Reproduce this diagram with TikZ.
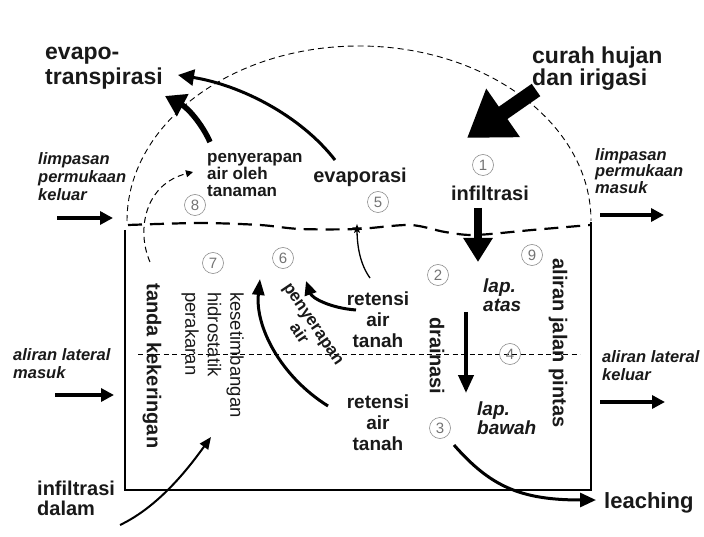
\documentclass[tikz,border=0pt]{standalone}
\usepackage{fontspec}
\setmainfont{Liberation Sans}
\usetikzlibrary{arrows.meta,shapes.geometric}

\tikzset{
  big/.style={font=\bfseries\fontsize{23}{25}\selectfont, align=left, inner sep=0pt, text=black!90},
  mid/.style={font=\bfseries\fontsize{20}{21}\selectfont, align=center, inner sep=0pt, text=black!90},
  small/.style={font=\bfseries\fontsize{17}{17.5}\selectfont, align=left, inner sep=0pt, text=black!90},
  thin/.style={font=\fontsize{18.5}{22.5}\selectfont, align=left, inner sep=0pt, text=black!90},
  flow/.style={font=\bfseries\itshape\fontsize{16.5}{18}\selectfont, align=left, inner sep=0pt, text=black!90},
  num/.style={circle, draw=black!45, line width=0.6pt, minimum size=21pt, inner sep=0pt, text=black!55, font=\fontsize{15}{15}\selectfont},
  sidearrow/.style={line width=3.5pt, -{Triangle[length=13pt,width=13pt]}},
}

\begin{document}
\begin{tikzpicture}[x=1pt,y=1pt]
		%%%%% START %%%%%
		\useasboundingbox (0,0) rectangle (704,536);
		
		% soil box and canopy
		\draw[line width=1.3pt] (125,306) -- (125,46) -- (591,46) -- (591,314);
		\draw[line width=0.9pt, dash pattern=on 6pt off 4pt] (127,315) arc[start angle=180, end angle=0, x radius=232, y radius=175];
		\draw[line width=2.2pt, dash pattern=on 14pt off 8pt] plot[smooth] coordinates {(128,311) (200,313) (260,311) (300,307) (357,307) (410,311) (445,304) (475,301) (532,306) (590,311)};
		\draw[line width=0.8pt, dash pattern=on 5pt off 3.5pt] (138,182) -- (580,182);
		
		% labels
		\node[big, anchor=west] (evapotr) at (45,468) {evapo-\\transpirasi};
		\node[big, anchor=west, font=\bfseries\fontsize{23}{22}\selectfont] (rain) at (532,467) {curah hujan\\dan irigasi};
		\node[flow, anchor=west] (runoffout) at (38,359) {limpasan\\permukaan\\keluar};
		\node[flow, anchor=west, font=\bfseries\itshape\fontsize{16.5}{16.5}\selectfont] (runoffin) at (595,365) {limpasan\\permukaan\\masuk};
		\node[small, anchor=west] (uptake) at (207,361) {penyerapan\\air oleh\\tanaman};
		\node[mid] (evap) at (360,359) {evaporasi};
		\node[mid] (infil) at (490,343) {infiltrasi};
		\node[flow, anchor=west] (latin) at (13,172) {aliran lateral\\masuk};
		\node[flow, anchor=west] (latout) at (602,170) {aliran lateral\\keluar};
		\node[mid, rotate=-90] (drought) at (152,170) {tanda kekeringan};
		\node[thin, rotate=-90, anchor=north west] (hydro) at (244,244) {kesetimbangan\\hidrostatik\\perakaran};
		\node[small, align=center, rotate=-56] (rootup) at (306,207) {penyerapan\\air};
		\node[mid, font=\bfseries\fontsize{19}{21}\selectfont] (ret1) at (378,216) {retensi\\air\\tanah};
		\node[mid, font=\bfseries\fontsize{19}{21}\selectfont] (ret2) at (378,113) {retensi\\air\\tanah};
		\node[mid, rotate=-90] (drain) at (437,180) {drainasi};
		\node[flow, anchor=west, font=\bfseries\itshape\fontsize{19}{19}\selectfont] (top) at (483,241) {lap.\\atas};
		\node[flow, anchor=west, font=\bfseries\itshape\fontsize{19}{19}\selectfont] (sub) at (477,118) {lap.\\bawah};
		\node[mid, rotate=-90] (bypass) at (558,193) {aliran jalan pintas};
		\node[big, anchor=west, font=\bfseries\fontsize{20}{20}\selectfont] (deep) at (37,38) {infiltrasi\\dalam};
		\node[big, anchor=west, font=\bfseries\fontsize{22}{22}\selectfont] (leach) at (604,33) {leaching};
		
		% numbers
		\node[num] (n1) at (483,371) {1};
		\node[num] (n2) at (438,261) {2};
		\node[num] (n3) at (440,108) {3};
		\node[num] (n4) at (510,182) {4};
		\node[num] (n5) at (378,334) {5};
		\node[num] (n6) at (283,278) {6};
		\node[num] (n7) at (213,273) {7};
		\node[num] (n8) at (195,331) {8};
		\node[num] (n9) at (532,281) {9};
		
		\node[star, star points=5, star point ratio=2.4, fill=black, inner sep=0pt, minimum size=10pt] (star) at (357,307) {};
		
		% arrow ends
		\coordinate (rainA) at (536,446);
		\coordinate (rainB) at (467,398);
		\coordinate (infA) at (478,328);
		\coordinate (infB) at (478,274);
		\coordinate (drA) at (466,224);
		\coordinate (drB) at (466,143);
		\coordinate (upA) at (210,394);
		\coordinate (upB) at (165,440);
		\coordinate (evA) at (335,376);
		\coordinate (evB) at (178,461);
		\coordinate (dsA) at (150,274);
		\coordinate (dsB) at (193,364);
		\coordinate (dpA) at (120,11);
		\coordinate (dpB) at (211,99);
		\coordinate (lcA) at (454,91);
		\coordinate (lcB) at (596,36);
		\coordinate (r2A) at (328,130);
		\coordinate (r2B) at (260,257);
		\coordinate (r1A) at (356,226);
		\coordinate (r1B) at (306,255);
		\coordinate (esA) at (370,258);
		
		% fluxes
		\draw[line width=15pt, -{Triangle[length=44pt,width=56pt]}] (rainA) -- (rainB);
		\draw[line width=8pt, -{Triangle[length=24pt,width=28pt]}] (infA) -- (infB);
		\draw[line width=4pt, -{Triangle[length=18pt,width=15pt]}] (drA) -- (drB);
		\draw[line width=5.5pt, -{Triangle[length=20pt,width=24pt]}] (upA) .. controls (202,412) and (188,428) .. (upB);
		\draw[line width=3pt, -{Triangle[length=16pt,width=16pt]}] (evA) .. controls (300,421) and (240,451) .. (evB);
		\draw[line width=1pt, dash pattern=on 6pt off 4pt, -{Triangle[length=7pt,width=7pt]}] (dsA) .. controls (136,306) and (145,352) .. (dsB);
		\draw[line width=2pt, -{Triangle[length=12pt,width=10pt]}] (dpA) .. controls (160,30) and (190,70) .. (dpB);
		\draw[line width=3pt, -{Triangle[length=16pt,width=14pt]}] (lcA) .. controls (490,50) and (520,36) .. (lcB);
		\draw[line width=3pt, -{Triangle[length=16pt,width=12pt]}] (r2A) .. controls (280,160) and (255,210) .. (r2B);
		\draw[line width=3pt, -{Triangle[length=14pt,width=12pt]}] (r1A) .. controls (330,228) and (312,238) .. (r1B);
		\draw[line width=1.3pt] (esA) .. controls (360,272) and (357,290) .. (star.center);
		
		% lateral flows
		\draw[sidearrow] (57,318) -- (113,318);
		\draw[sidearrow] (600,321) -- (664,321);
		\draw[sidearrow] (55,141) -- (114,141);
		\draw[sidearrow] (600,134) -- (665,134);
		
		%%%%% END %%%%%
	\end{tikzpicture}
\end{document}
